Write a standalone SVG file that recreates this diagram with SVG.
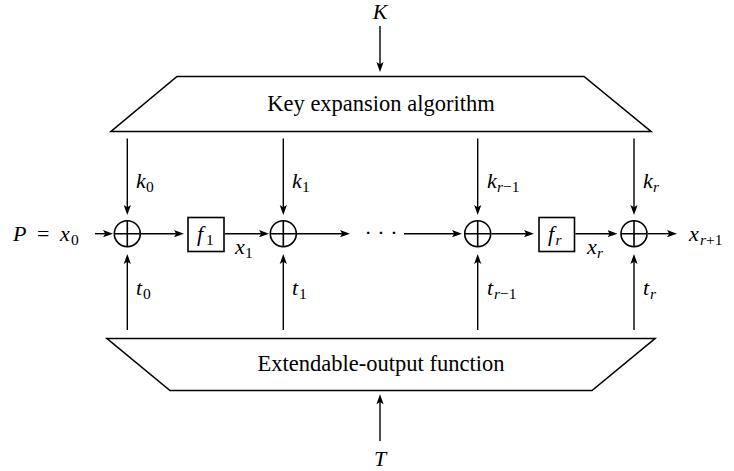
<svg xmlns="http://www.w3.org/2000/svg" width="734" height="471" viewBox="0 0 734 471">
<defs>
<marker id="arr" markerUnits="userSpaceOnUse" viewBox="0 -5 10 10" markerWidth="10" markerHeight="10" refX="6" refY="0" orient="auto">
<path d="M0,-3.6 L10,0 L0,3.6 L2.2,0 Z" fill="#000"/>
</marker>
</defs>
<style>
.shape{fill:#fff;stroke:#000;stroke-width:1.6;stroke-linejoin:miter}
.xor{fill:none;stroke:#000;stroke-width:1.6}
.edge{fill:none;stroke:#000;stroke-width:1.4}
text{font-family:'Liberation Serif','Times New Roman',serif;fill:#000}
.m{font-style:italic;font-size:22px}
.rm{font-size:22px;font-style:normal}
.sub{font-size:15.5px;font-style:normal}
.si{font-size:15.5px;font-style:italic}
.lbl{font-size:22.5px;text-anchor:middle}
</style>

<g id="key-expansion">
<polygon class="shape" points="177,76.5 584,76.5 651,131.5 111,131.5"/>
<text class="lbl" x="381" y="111">Key expansion algorithm</text>
</g>
<g id="xof">
<polygon class="shape" points="107,338.5 655,338.5 592,390.5 170,390.5"/>
<text class="lbl" x="381" y="371">Extendable-output function</text>
</g>

<g id="input-K"><text class="m" x="380" y="19" text-anchor="middle">K</text></g>
<g id="input-T"><text class="m" x="380" y="466" text-anchor="middle">T</text></g>

<g id="input-P">
<text x="13" y="241"><tspan class="m">P</tspan><tspan class="rm" x="37">=</tspan><tspan class="m" x="60">x</tspan><tspan class="sub" x="71" y="244.5">0</tspan></text>
</g>
<g id="output-x">
<text x="689" y="241"><tspan class="m">x</tspan><tspan class="si" x="700" y="244.5">r</tspan><tspan class="sub">+1</tspan></text>
</g>

<g id="xor-0"><circle class="xor" cx="127.3" cy="233.7" r="13"/><path class="xor" d="M114.3,233.7H140.3M127.3,220.7V246.7"/></g>
<g id="xor-1"><circle class="xor" cx="283.3" cy="233.7" r="13"/><path class="xor" d="M270.3,233.7H296.3M283.3,220.7V246.7"/></g>
<g id="xor-r-1"><circle class="xor" cx="477.7" cy="233.7" r="13"/><path class="xor" d="M464.7,233.7H490.7M477.7,220.7V246.7"/></g>
<g id="xor-r"><circle class="xor" cx="634" cy="233.7" r="13"/><path class="xor" d="M621,233.7H647M634,220.7V246.7"/></g>

<g id="f1">
<rect class="shape" x="188" y="217.5" width="36" height="34"/>
<text x="197" y="241"><tspan class="m">f</tspan><tspan class="sub" x="206" y="244.5">1</tspan></text>
</g>
<g id="fr">
<rect class="shape" x="539" y="217.5" width="35.5" height="34"/>
<text x="548" y="241"><tspan class="m">f</tspan><tspan class="si" x="555.5" y="244.5">r</tspan></text>
</g>

<g id="dots"><text class="rm" x="381" y="240" text-anchor="middle">· · ·</text></g>

<g id="connectors">
<path class="edge" marker-end="url(#arr)" d="M380,26V68"/>
<path class="edge" marker-end="url(#arr)" d="M380,441V398.3"/>
<path class="edge" marker-end="url(#arr)" d="M127.3,138.5V211"/>
<path class="edge" marker-end="url(#arr)" d="M283.3,138.5V211"/>
<path class="edge" marker-end="url(#arr)" d="M477.7,138.5V211"/>
<path class="edge" marker-end="url(#arr)" d="M634,138.5V211"/>
<path class="edge" marker-end="url(#arr)" d="M127.3,330V258"/>
<path class="edge" marker-end="url(#arr)" d="M283.3,330V258"/>
<path class="edge" marker-end="url(#arr)" d="M477.7,330V258"/>
<path class="edge" marker-end="url(#arr)" d="M634,330V258"/>
<path class="edge" marker-end="url(#arr)" d="M95,233.7H109"/>
<path class="edge" marker-end="url(#arr)" d="M141,233.7H180"/>
<path class="edge" marker-end="url(#arr)" d="M224.8,233.7H265"/>
<path class="edge" marker-end="url(#arr)" d="M297,233.7H346"/>
<path class="edge" marker-end="url(#arr)" d="M404,233.7H458"/>
<path class="edge" marker-end="url(#arr)" d="M491.5,233.7H530"/>
<path class="edge" marker-end="url(#arr)" d="M575.3,233.7H613.5"/>
<path class="edge" marker-end="url(#arr)" d="M648,233.7H673"/>
</g>

<g id="edge-labels">
<text x="136" y="188"><tspan class="m">k</tspan><tspan class="sub" x="146" y="191.5">0</tspan></text>
<text x="292" y="188"><tspan class="m">k</tspan><tspan class="sub" x="302" y="191.5">1</tspan></text>
<text x="487" y="188"><tspan class="m">k</tspan><tspan class="si" x="497" y="191.5">r</tspan><tspan class="sub">−1</tspan></text>
<text x="643" y="188"><tspan class="m">k</tspan><tspan class="si" x="653" y="191.5">r</tspan></text>
<text x="136" y="295"><tspan class="m">t</tspan><tspan class="sub" x="143" y="298.5">0</tspan></text>
<text x="292" y="295"><tspan class="m">t</tspan><tspan class="sub" x="299" y="298.5">1</tspan></text>
<text x="487" y="295"><tspan class="m">t</tspan><tspan class="si" x="494" y="298.5">r</tspan><tspan class="sub">−1</tspan></text>
<text x="643" y="295"><tspan class="m">t</tspan><tspan class="si" x="650" y="298.5">r</tspan></text>
<text x="235" y="254"><tspan class="m">x</tspan><tspan class="sub" x="245" y="257.5">1</tspan></text>
<text x="587" y="254"><tspan class="m">x</tspan><tspan class="si" x="597" y="257.5">r</tspan></text>
</g>
</svg>
